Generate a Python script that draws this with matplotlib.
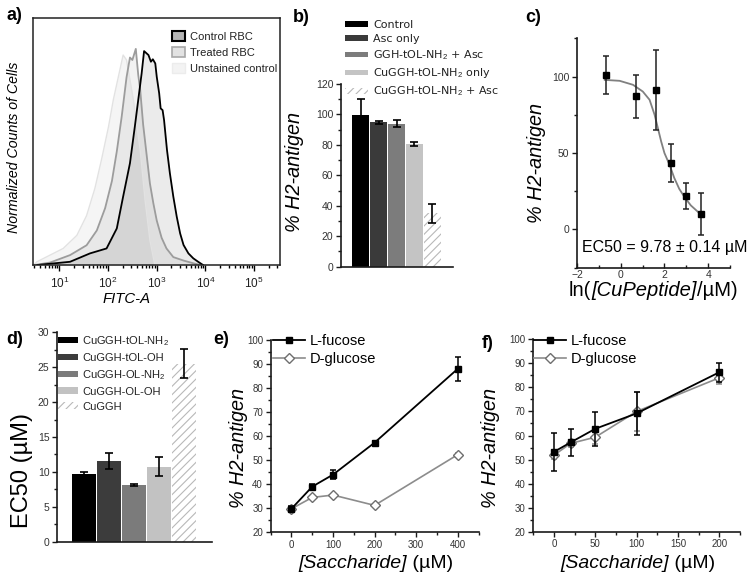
import matplotlib.pyplot as plt
import numpy as np
from matplotlib.patches import Patch
from matplotlib.lines import Line2D
from matplotlib.ticker import MultipleLocator, FixedLocator, LogLocator, NullFormatter

plt.rcParams['font.family'] = ['Liberation Sans', 'DejaVu Sans']
plt.rcParams['mathtext.fontset'] = 'custom'
plt.rcParams['mathtext.rm'] = 'Liberation Sans'
plt.rcParams['mathtext.it'] = 'Liberation Sans:italic'
plt.rcParams['mathtext.bf'] = 'Liberation Sans:bold'
plt.rcParams['hatch.linewidth'] = 0.8

# ---- a) flow cytometry histograms (log10 FITC-A, normalised counts) ----
ctrl_log = [0.55, 1.22, 1.63, 1.97, 2.18, 2.31, 2.45, 2.55, 2.62, 2.69, 2.74, 2.83, 2.88,
            2.92, 2.97, 3.00, 3.05, 3.08, 3.12, 3.15, 3.21, 3.27, 3.34, 3.41, 3.48, 3.55,
            3.65, 3.75, 3.85, 3.95]
ctrl_cnt = [0.0, 0.013, 0.047, 0.067, 0.148, 0.277, 0.412, 0.56, 0.668, 0.776, 0.866, 0.85,
            0.823, 0.833, 0.816, 0.762, 0.695, 0.634, 0.627, 0.587, 0.466, 0.371, 0.277,
            0.196, 0.128, 0.081, 0.047, 0.027, 0.013, 0.0]
treat_log = [0.5, 0.81, 1.22, 1.56, 1.77, 1.94, 2.08, 2.18, 2.28, 2.38, 2.45, 2.50, 2.57,
             2.62, 2.66, 2.72, 2.79, 2.86, 2.93, 3.0, 3.10, 3.2, 3.34, 3.55, 3.75, 3.9]
treat_cnt = [0.0, 0.01, 0.04, 0.08, 0.14, 0.23, 0.34, 0.46, 0.60, 0.76, 0.84, 0.83, 0.875,
             0.77, 0.71, 0.57, 0.45, 0.33, 0.25, 0.18, 0.11, 0.067, 0.032, 0.018, 0.007, 0.0]
unst_log = [0.47, 0.54, 0.81, 1.08, 1.36, 1.56, 1.73, 1.87, 2.01, 2.11, 2.21, 2.31, 2.38,
            2.52, 2.66, 2.76, 2.86, 2.96]
unst_cnt = [0.0, 0.013, 0.04, 0.067, 0.12, 0.20, 0.31, 0.43, 0.56, 0.67, 0.76, 0.85, 0.83,
            0.668, 0.466, 0.263, 0.10, 0.0]

# ---- b) % H2-antigen bars ----
b_labels = ['Control', 'Asc only', 'GGH-tOL-NH$_2$ + Asc', 'CuGGH-tOL-NH$_2$ only',
            'CuGGH-tOL-NH$_2$ + Asc']
b_vals = [99.5, 94.8, 94.0, 80.7, 35.0]
b_errs = [10.5, 1.0, 2.5, 1.5, 6.0]

# ---- c) dose response ----
c_lnconc = [-0.69, 0.69, 1.61, 2.30, 3.00, 3.69]
c_h2 = [101.0, 87.0, 91.0, 43.5, 22.0, 10.0]
c_err = [12.7, 14.0, 26.2, 12.2, 8.5, 13.9]
fit_x = [-0.73, -0.05, 0.56, 1.01, 1.32, 1.55, 1.70, 1.85, 2.00, 2.23, 2.45, 2.68, 2.94,
         3.21, 3.62]
fit_y = [97.8, 97.2, 94.6, 90.2, 84.8, 75.0, 66.3, 57.6, 50.0, 42.4, 33.7, 26.5, 20.7,
         15.7, 10.4]

# ---- d) EC50 bars ----
d_labels = ['CuGGH-tOL-NH$_2$', 'CuGGH-tOL-OH', 'CuGGH-OL-NH$_2$', 'CuGGH-OL-OH', 'CuGGH']
d_vals = [9.7, 11.5, 8.1, 10.75, 25.5]
d_errs = [0.25, 1.15, 0.15, 1.4, 2.05]

# ---- e) and f) saccharide competition ----
sac_e = [0, 50, 100, 200, 400]
fuc_e = [29.8, 39.0, 44.0, 57.3, 88.0]
fuc_e_err = [1.0, 1.2, 2.0, 0.7, 5.0]
glc_e = [29.8, 34.5, 35.5, 31.2, 52.3]
glc_e_err = [0.5, 0.5, 0.5, 0.4, 0.5]

sac_f = [0, 20, 50, 100, 200]
fuc_f = [53.2, 57.1, 62.8, 69.2, 86.3]
fuc_f_err = [7.9, 5.5, 7.1, 8.8, 4.0]
glc_f = [51.8, 56.7, 59.3, 70.0, 84.0]
glc_f_err = [1.5, 1.5, 3.0, 8.0, 2.5]

W, H = 754, 577


def box(x0, y0, x1, y1):
    # pixel box (top-left origin) -> figure fraction rect
    return [x0 / W, 1 - y1 / H, (x1 - x0) / W, (y1 - y0) / H]


def ftext(x, y, s, **kw):
    kw.setdefault('ha', 'center')
    kw.setdefault('va', 'center')
    return fig.text(x / W, 1 - y / H, s, **kw)


def chain_text(xc, y, parts, size):
    # mixed upright / italic label, centred on xc (pixels)
    rend = fig.canvas.get_renderer()
    texts = [ftext(0, y, s, ha='left', fontsize=size, style=st) for s, st in parts]
    widths = [t.get_window_extent(rend).width for t in texts]
    x = xc - sum(widths) / 2
    for t, w in zip(texts, widths):
        t.set_x(x / W)
        x += w


def style_open(ax, size=7.5):
    ax.spines['top'].set_visible(False)
    ax.spines['right'].set_visible(False)
    for s in ('left', 'bottom'):
        ax.spines[s].set_linewidth(1.2)
        ax.spines[s].set_color('#1a1a1a')
    ax.tick_params(which='both', direction='out', width=1, color='#1a1a1a',
                   labelsize=size, labelcolor='#333333', pad=2)
    ax.tick_params(which='major', length=3.5)
    ax.tick_params(which='minor', length=2)


fig = plt.figure(figsize=(7.54, 5.77), dpi=100)

# ================= a =================
ax = fig.add_axes(box(33.3, 18, 280, 265))
ax.set_xscale('log')
xc, xt, xu = 10 ** np.array(ctrl_log), 10 ** np.array(treat_log), 10 ** np.array(unst_log)
ax.fill_between(xu, unst_cnt, color='k', alpha=0.04, lw=0)
ax.fill_between(xt, treat_cnt, color='k', alpha=0.05, lw=0)
ax.fill_between(xc, ctrl_cnt, color='k', alpha=0.08, lw=0)
ax.plot(xu, unst_cnt, color='#e2e2e2', lw=1.0)
ax.plot(xt, treat_cnt, color='#9c9c9c', lw=1.3)
ax.plot(xc, ctrl_cnt, color='black', lw=1.3)
ax.set_xlim(10 ** 0.466, 10 ** 5.53)
ax.set_ylim(0, 1)
ax.set_yticks([])
ax.xaxis.set_major_locator(FixedLocator([1e1, 1e2, 1e3, 1e4, 1e5]))
ax.xaxis.set_minor_locator(LogLocator(base=10, subs=np.arange(2, 10)))
ax.xaxis.set_minor_formatter(NullFormatter())
ax.tick_params(which='both', direction='out', width=1, labelsize=8.5, labelcolor='#222222')
ax.tick_params(which='major', length=4)
ax.tick_params(which='minor', length=2.2)
for s in ax.spines.values():
    s.set_linewidth(1.1)
    s.set_color('#222222')
a_handles = [Patch(facecolor='#b4b4b4', edgecolor='black', linewidth=1.5, label='Control RBC'),
             Patch(facecolor='#e2e2e2', edgecolor='#a8a8a8', linewidth=1.2, label='Treated RBC'),
             Patch(facecolor='#f3f3f3', edgecolor='#ececec', linewidth=1.0,
                   label='Unstained control')]
ax.legend(handles=a_handles, loc='upper left', bbox_to_anchor=(172 / W, 1 - 31 / H),
          bbox_transform=fig.transFigure, frameon=False, fontsize=8, handlelength=1.15,
          handleheight=1.05, handletextpad=0.45, labelspacing=0.45, borderpad=0,
          borderaxespad=0, labelcolor='#222222')
ftext(14, 147, 'Normalized Counts of Cells', rotation=90, fontsize=10.2, style='italic')
ftext(127, 299, 'FITC-A', fontsize=10.7, style='italic')

# ================= b =================
ax = fig.add_axes(box(341, 84, 453, 266.7))
style_open(ax)
xb = np.arange(len(b_vals))
b_colors = ['#000000', '#3a3a3a', '#7c7c7c', '#c4c4c4', 'white']
bars = ax.bar(xb, b_vals, width=0.93, color=b_colors, linewidth=0)
bars[-1].set_edgecolor('#b8b8b8')
bars[-1].set_hatch('////')
ax.errorbar(xb, b_vals, yerr=b_errs, fmt='none', ecolor='black', elinewidth=1.2,
            capsize=3, capthick=1.2)
ax.set_xlim(-1.1, 5.15)
ax.set_ylim(0, 120)
ax.set_xticks([])
ax.yaxis.set_major_locator(MultipleLocator(20))
ax.yaxis.set_minor_locator(MultipleLocator(10))
b_handles = []
for c, lab in zip(b_colors, b_labels):
    if c == 'white':
        b_handles.append(Patch(facecolor='white', edgecolor='#b8b8b8', hatch='////',
                               linewidth=0, label=lab))
    else:
        b_handles.append(Patch(facecolor=c, linewidth=0, label=lab))
ax.legend(handles=b_handles, loc='upper left', bbox_to_anchor=(345 / W, 1 - 20 / H),
          bbox_transform=fig.transFigure, frameon=False,
          prop={'family': 'DejaVu Sans', 'size': 8}, handlelength=2.1, handleheight=0.45,
          handletextpad=0.45, labelspacing=0.38, borderpad=0, borderaxespad=0,
          labelcolor='#222222')
ftext(295, 172, '% H2-antigen', rotation=90, fontsize=14.3, style='italic')

# ================= c =================
ax = fig.add_axes(box(577, 38.3, 730, 267.7))
style_open(ax)
ax.tick_params(axis='x', which='both', direction='in', pad=1.5)
ax.plot(fit_x, fit_y, color='#808080', lw=1.3, zorder=2)
ax.errorbar(c_lnconc, c_h2, yerr=c_err, fmt='s', color='black', ms=4.5, ecolor='#222222',
            elinewidth=1.1, capsize=2.5, capthick=1.1, zorder=3)
ax.set_xlim(-2, 5)
ax.set_ylim(-25, 125)
ax.set_xticks([-2, 0, 2, 4])
ax.xaxis.set_minor_locator(MultipleLocator(1))
ax.set_yticks([0, 50, 100])
ax.yaxis.set_minor_locator(MultipleLocator(25))
ax.text(0.035, 0.09, 'EC50 = 9.78 ± 0.14 µM', transform=ax.transAxes, fontsize=11.5,
        ha='left', va='center')
ftext(536, 163, '% H2-antigen', rotation=90, fontsize=14.3, style='italic')

# ================= d =================
ax = fig.add_axes(box(57, 332.3, 211.7, 541.7))
style_open(ax)
xd = np.arange(len(d_vals))
d_colors = ['#000000', '#3c3c3c', '#7b7b7b', '#c2c2c2', 'white']
bars = ax.bar(xd, d_vals, width=0.94, color=d_colors, linewidth=0)
bars[-1].set_edgecolor('#b8b8b8')
bars[-1].set_hatch('////')
ax.errorbar(xd, d_vals, yerr=d_errs, fmt='none', ecolor='black', elinewidth=1.2,
            capsize=3.2, capthick=1.2)
ax.set_xlim(-1.09, 5.12)
ax.set_ylim(0, 30)
ax.set_xticks([])
ax.yaxis.set_major_locator(MultipleLocator(5))
ax.yaxis.set_minor_locator(MultipleLocator(2.5))
d_handles = []
for c, lab in zip(d_colors, d_labels):
    if c == 'white':
        d_handles.append(Patch(facecolor='white', edgecolor='#b8b8b8', hatch='////',
                               linewidth=0, label=lab))
    else:
        d_handles.append(Patch(facecolor=c, linewidth=0, label=lab))
ax.legend(handles=d_handles, loc='upper left', bbox_to_anchor=(58 / W, 1 - 334 / H),
          bbox_transform=fig.transFigure, frameon=False, fontsize=8, handlelength=1.8,
          handleheight=0.55, handletextpad=0.4, labelspacing=0.45, borderpad=0,
          borderaxespad=0, labelcolor='#222222')
ftext(22, 470, 'EC50 (µM)', rotation=90, fontsize=17)


# ================= e / f =================
def sacc_panel(rect, xs, fuc, fuc_err, glc, glc_err, xlim, xmajor, leg_x):
    ax = fig.add_axes(rect)
    style_open(ax, size=7)
    ax.errorbar(xs, glc, yerr=glc_err, fmt='-D', color='#8c8c8c', mfc='white',
                mec='#6e6e6e', ms=5.5, lw=1.2, elinewidth=1.1, capsize=2.5, capthick=1.1,
                zorder=2)
    ax.errorbar(xs, fuc, yerr=fuc_err, fmt='-s', color='black', ms=5, lw=1.3,
                elinewidth=1.1, capsize=2.5, capthick=1.1, zorder=3)
    ax.set_xlim(*xlim)
    ax.set_ylim(20, 100)
    ax.xaxis.set_major_locator(MultipleLocator(xmajor))
    ax.xaxis.set_minor_locator(MultipleLocator(xmajor / 2))
    ax.set_xticks([t for t in np.arange(0, xlim[1] + 1, xmajor)])
    ax.yaxis.set_major_locator(MultipleLocator(10))
    ax.yaxis.set_minor_locator(MultipleLocator(5))
    handles = [Line2D([], [], color='black', marker='s', ms=5, lw=1.3, label='L-fucose'),
               Line2D([], [], color='#8c8c8c', marker='D', mfc='white', mec='#6e6e6e',
                      ms=5.5, lw=1.2, label='D-glucose')]
    ax.legend(handles=handles, loc='upper left', bbox_to_anchor=(leg_x / W, 1 - 334 / H),
              bbox_transform=fig.transFigure, frameon=False, fontsize=10.5,
              handlelength=2.2, handletextpad=0.35, labelspacing=0.3, borderpad=0,
              borderaxespad=0)
    return ax


sacc_panel(box(270.7, 340, 478.5, 532.3), sac_e, fuc_e, fuc_e_err, glc_e, glc_e_err,
           (-50, 450), 100, 272.7)
ftext(238, 448, '% H2-antigen', rotation=90, fontsize=14.3, style='italic')
sacc_panel(box(533.3, 339.3, 740, 531.7), sac_f, fuc_f, fuc_f_err, glc_f, glc_f_err,
           (-25, 225), 50, 534)
ftext(491, 448, '% H2-antigen', rotation=90, fontsize=14.3, style='italic')

# axis titles with italic parts
chain_text(653, 291, [('ln(', 'normal'), ('[CuPeptide]', 'italic'), ('/µM)', 'normal')], 14.5)
chain_text(375.5, 564, [('[Saccharide]', 'italic'), (' (µM)', 'normal')], 14)
chain_text(637.5, 564, [('[Saccharide]', 'italic'), (' (µM)', 'normal')], 14)

# panel letters
for lx, ly, s in [(14, 15, 'a)'), (301, 17, 'b)'), (533, 18, 'c)'), (15, 340, 'd)'),
                  (221, 340, 'e)'), (488, 344, 'f)')]:
    ftext(lx, ly, s, fontsize=13, fontweight='bold')

fig.savefig('out.png', dpi=100)
